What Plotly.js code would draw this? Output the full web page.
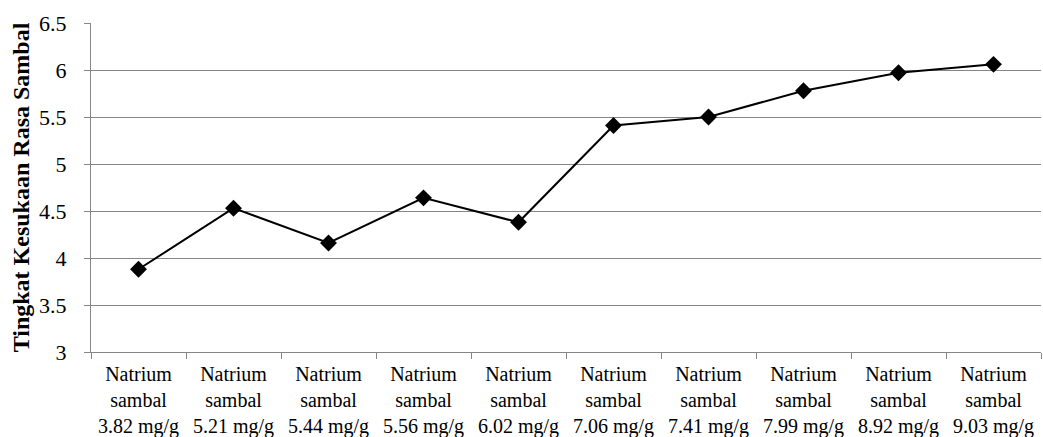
<!DOCTYPE html>
<html>
<head>
<meta charset="utf-8">
<script src="https://cdn.plot.ly/plotly-3.0.1.min.js"></script>
<style>html,body{margin:0;padding:0;background:#fff;}#chart{width:1043px;height:437px;}</style>
</head>
<body>
<div id="chart"></div>
<script>
const categories = ["Natrium<br>sambal<br>3.82 mg/g","Natrium<br>sambal<br>5.21 mg/g","Natrium<br>sambal<br>5.44 mg/g","Natrium<br>sambal<br>5.56 mg/g","Natrium<br>sambal<br>6.02 mg/g","Natrium<br>sambal<br>7.06 mg/g","Natrium<br>sambal<br>7.41 mg/g","Natrium<br>sambal<br>7.99 mg/g","Natrium<br>sambal<br>8.92 mg/g","Natrium<br>sambal<br>9.03 mg/g"];
const values = [3.88, 4.53, 4.16, 4.64, 4.38, 5.41, 5.50, 5.78, 5.97, 6.06];
const yTicks = [3, 3.5, 4, 4.5, 5, 5.5, 6, 6.5];
const yTickLabels = ["3","3.5","4","4.5","5","5.5","6","6.5"];
const yTitle = "Tingkat Kesukaan Rasa Sambal";
const FONT = "Liberation Serif";

const trace = {
  x: categories, y: values, type: "scatter", mode: "lines+markers",
  line: {color: "#000", width: 2},
  marker: {symbol: "diamond", size: 13, color: "#000"},
  hoverinfo: "none"
};
const layout = {
  width: 1043, height: 437,
  margin: {l: 91, r: 2, t: 23, b: 85},
  paper_bgcolor: "#fff", plot_bgcolor: "#fff",
  font: {family: FONT, size: 20, color: "#000"},
  showlegend: false,
  xaxis: {
    type: "category", tickson: "boundaries", ticks: "outside", ticklen: 6, tickcolor: "#868686", tickwidth: 1,
    showline: true, linecolor: "#868686", linewidth: 1, showgrid: false,
    tickfont: {family: FONT, size: 20, color: "#000"},
    ticklabelstandoff: 4,
    range: [-0.5, 9.5], fixedrange: true
  },
  yaxis: {
    range: [3, 6.5], tickvals: yTicks, ticktext: yTickLabels,
    ticks: "outside", ticklen: 6, tickcolor: "#868686",
    showline: true, linecolor: "#868686", linewidth: 1,
    showgrid: true, gridcolor: "#868686", gridwidth: 1, zeroline: false,
    tickfont: {family: FONT, size: 22, color: "#000"},
    ticklabelstandoff: 13,
    title: {text: "<b>" + yTitle + "</b>", font: {family: FONT, size: 24, color: "#000"}, standoff: 2}
  }
};
Plotly.newPlot("chart", [trace], layout, {staticPlot: true, displayModeBar: false});
</script>
</body>
</html>
